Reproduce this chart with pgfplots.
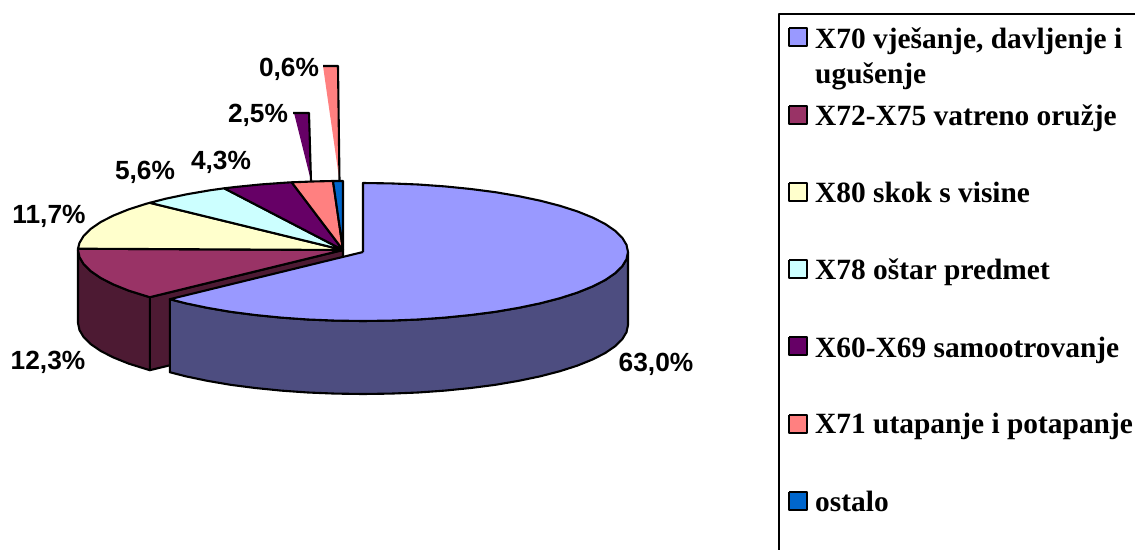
\documentclass[border=0pt]{standalone}
\usepackage{fontspec}
\setmainfont{Liberation Sans}
\newfontfamily\lgfont{Liberation Serif}[BoldFont={Liberation Serif Bold}]
\usepackage{pgfplots}
\pgfplotsset{compat=1.18}
\definecolor{cA}{HTML}{9999FF}\definecolor{cAs}{HTML}{4D4D80}
\definecolor{cB}{HTML}{993366}\definecolor{cBs}{HTML}{4D1A33}
\definecolor{cC}{HTML}{FFFFCC}
\definecolor{cD}{HTML}{CCFFFF}
\definecolor{cE}{HTML}{660066}
\definecolor{cF}{HTML}{FF8080}
\definecolor{cG}{HTML}{0066CC}
\newcommand{\lab}[2]{\node[font=\fontsize{26.3}{26}\selectfont\bfseries,inner sep=0pt,anchor=base] at (axis cs:#1) {#2};}
\newcommand{\leg}[2]{\node[font=\lgfont\fontsize{29.4}{29}\selectfont\bfseries,inner sep=0pt,anchor=base west] at (axis cs:#1) {#2};}
\begin{document}
\begin{tikzpicture}
\path (0,0) rectangle (1135pt,549pt);
\begin{axis}[at={(0,0)},anchor=south west,width=1135pt,height=549pt,scale only axis,
  xmin=0,xmax=1135,ymin=0,ymax=549,y dir=reverse,hide axis,
  every axis plot/.append style={line width=2.1pt,line join=round,draw=black}]
% maroon side and cut face
\addplot[fill=cBs] coordinates {(149.8,297.2)(343,250)(343,323)(149.8,370.2)(149.8,297.2)};
\addplot[fill=cBs] coordinates {(78,250)(79.5,257.2)(83.8,264.3)(91,271.3)(100.9,278.1)(113.5,284.5)(128.6,290.6)(149.8,297.2)(149.8,370.2)(128.6,363.6)(113.5,357.5)(100.9,351.1)(91,344.3)(83.8,337.3)(79.5,330.2)(78,323)(78,250)};
% back slices
\addplot[fill=cB] coordinates {(343,250)(149.8,297.2)(128.6,290.6)(113.5,284.5)(100.9,278.1)(91,271.3)(83.8,264.3)(79.5,257.2)(78,250)(78,248.7)(343,250)};
\addplot[fill=cC] coordinates {(343,250)(78,248.7)(79.5,242.8)(83.8,235.7)(91,228.7)(100.9,221.9)(113.5,215.5)(128.6,209.4)(146.1,203.8)(149.8,202.8)(343,250)};
\addplot[fill=cD] coordinates {(343,250)(149.8,202.8)(165.7,198.7)(187.2,194.2)(210.5,190.2)(224.2,188.3)(343,250)};
\addplot[fill=cE] coordinates {(343,250)(224.2,188.3)(235.2,187)(261.1,184.4)(287.9,182.5)(291.7,182.3)(343,250)};
\addplot[fill=cF] coordinates {(343,250)(291.7,182.3)(315.3,181.4)(333,181)(343,250)};
\addplot[fill=cG] coordinates {(343,250)(333,181)(343,181)(343,250)};
% big slice side
\addplot[fill=cAs] coordinates {(628,252)(626.5,259.2)(622.2,266.3)(615,273.3)(605.1,280.1)(592.5,286.5)(577.4,292.6)(559.9,298.2)(540.3,303.3)(518.8,307.8)(495.5,311.8)(470.8,315)(444.9,317.6)(418.1,319.5)(390.7,320.6)(363,321)(335.3,320.6)(307.9,319.5)(281.1,317.6)(255.2,315)(230.5,311.8)(207.2,307.8)(185.7,303.3)(169.8,299.2)(169.8,372.2)(185.7,376.3)(207.2,380.8)(230.5,384.8)(255.2,388)(281.1,390.6)(307.9,392.5)(335.3,393.6)(363,394)(390.7,393.6)(418.1,392.5)(444.9,390.6)(470.8,388)(495.5,384.8)(518.8,380.8)(540.3,376.3)(559.9,371.2)(577.4,365.6)(592.5,359.5)(605.1,353.1)(615,346.3)(622.2,339.3)(626.5,332.2)(628,325)(628,252)};
% big slice top
\addplot[fill=cA] coordinates {(363,252)(363,183)(390.7,183.4)(418.1,184.5)(444.9,186.4)(470.8,189)(495.5,192.2)(518.8,196.2)(540.3,200.7)(559.9,205.8)(577.4,211.4)(592.5,217.5)(605.1,223.9)(615,230.7)(622.2,237.7)(626.5,244.8)(628,252)(626.5,259.2)(622.2,266.3)(615,273.3)(605.1,280.1)(592.5,286.5)(577.4,292.6)(559.9,298.2)(540.3,303.3)(518.8,307.8)(495.5,311.8)(470.8,315)(444.9,317.6)(418.1,319.5)(390.7,320.6)(363,321)(335.3,320.6)(307.9,319.5)(281.1,317.6)(255.2,315)(230.5,311.8)(207.2,307.8)(185.7,303.3)(169.8,299.2)(363,252)};
% leader wedges
\addplot[fill=cE,draw=none] coordinates {(294,113)(309,113)(311,181)(294,113)};
\addplot[] coordinates {(293,113)(309,113)(311,181)};
\addplot[fill=cF,draw=none] coordinates {(323,66)(338,66)(339.5,181)(323,66)};
\addplot[] coordinates {(323,66)(338,66)(339.5,181)};
% legend frame and swatches
\addplot[line width=2.8pt] coordinates {(779,560)(779,14)(1145,14)};
\addplot[fill=cA,line width=2.4pt] coordinates {(789,28)(807,28)(807,46)(789,46)(789,28)};
\addplot[fill=cB,line width=2.4pt] coordinates {(789,106)(807,106)(807,124)(789,124)(789,106)};
\addplot[fill=cC,line width=2.4pt] coordinates {(789,183)(807,183)(807,201)(789,201)(789,183)};
\addplot[fill=cD,line width=2.4pt] coordinates {(789,260)(807,260)(807,278)(789,278)(789,260)};
\addplot[fill=cE,line width=2.4pt] coordinates {(789,337)(807,337)(807,355)(789,355)(789,337)};
\addplot[fill=cF,line width=2.4pt] coordinates {(789,415)(807,415)(807,433)(789,433)(789,415)};
\addplot[fill=cG,line width=2.4pt] coordinates {(789,492)(807,492)(807,510)(789,510)(789,492)};
\leg{815,48}{X70 vješanje, davljenje i}
\leg{815,83}{ugušenje}
\leg{815,125}{X72-X75 vatreno oružje}
\leg{815,202}{X80 skok s visine}
\leg{815,279}{X78 oštar predmet}
\leg{815,357}{X60-X69 samootrovanje}
\leg{815,433}{X71 utapanje i potapanje}
\leg{815,511}{ostalo}
\lab{656,371}{63,0\%}
\lab{48,369}{12,3\%}
\lab{49,223}{11,7\%}
\lab{145,179}{5,6\%}
\lab{221,169}{4,3\%}
\lab{258,122}{2,5\%}
\lab{289,76}{0,6\%}
\end{axis}
\end{tikzpicture}
\end{document}
